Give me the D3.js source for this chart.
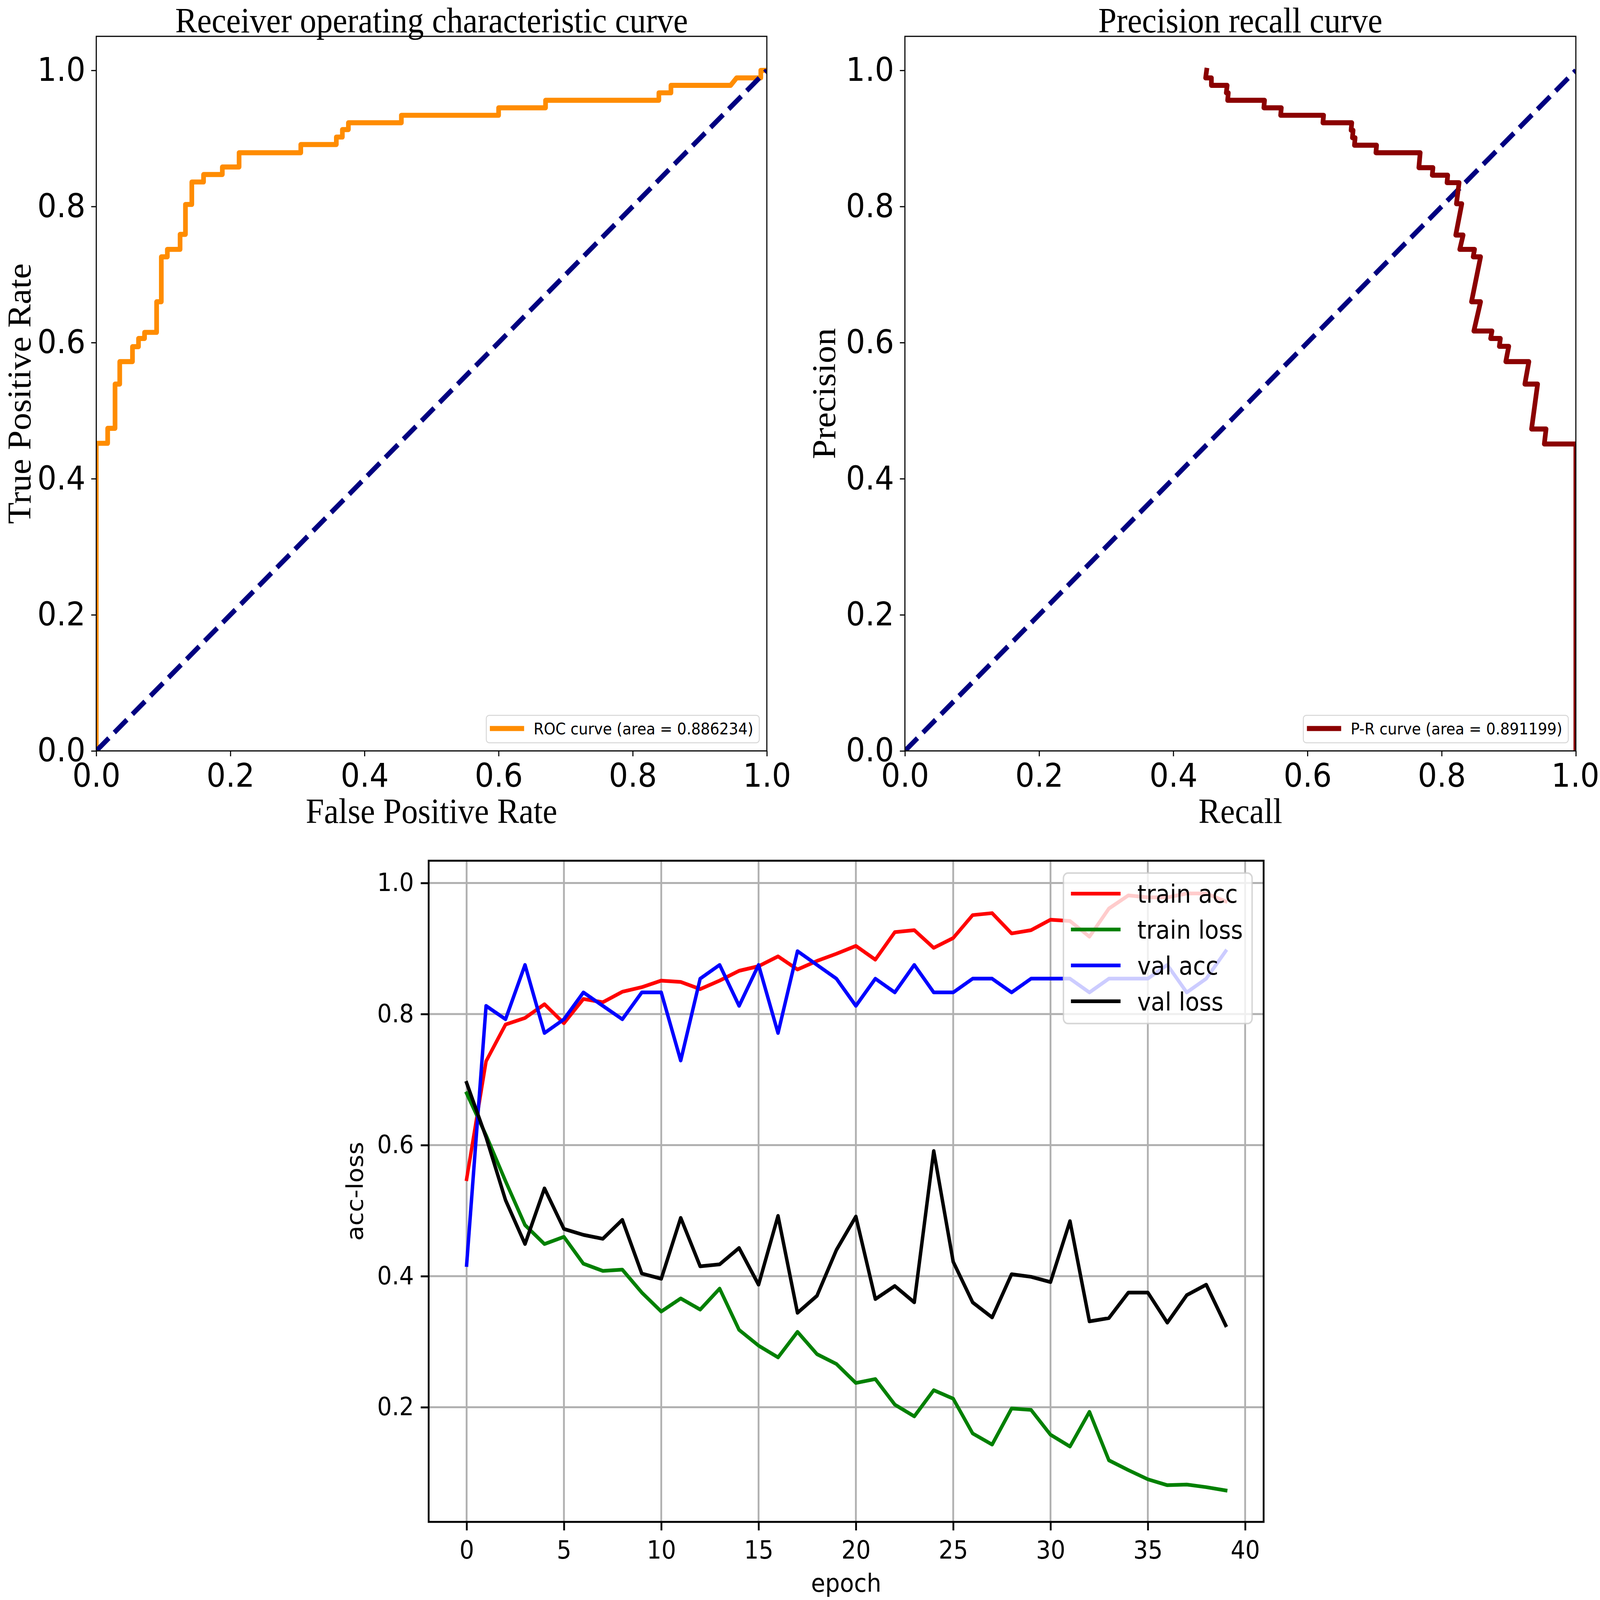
<!DOCTYPE html>
<html>
<head>
<meta charset="utf-8">
<script src="https://cdn.jsdelivr.net/npm/d3@7"></script>
<style>
body { margin: 0; background: #fff; overflow: hidden; }
svg { display: block; }
</style>
</head>
<body>
<script>
// drawing units follow the 4438x4138 reference; the svg is stretched to the real window
var W = 4438, H = 4138;

// ROC curve, corner points
var rocFpr = [0, 0, 0.017, 0.017, 0.028, 0.028, 0.035, 0.035, 0.054, 0.054, 0.063, 0.063, 0.072, 0.072,
    0.090, 0.090, 0.097, 0.097, 0.106, 0.106, 0.125, 0.125, 0.133, 0.133, 0.1425, 0.1425, 0.160, 0.160,
    0.188, 0.188, 0.213, 0.213, 0.305, 0.305, 0.358, 0.358, 0.367, 0.367, 0.376, 0.376, 0.455, 0.455,
    0.600, 0.600, 0.670, 0.670, 0.839, 0.839, 0.857, 0.857, 0.946, 0.955, 0.991, 0.991, 1.0];
var rocTpr = [0, 0.452, 0.452, 0.474, 0.474, 0.539, 0.539, 0.572, 0.572, 0.594, 0.594, 0.606, 0.606, 0.615,
    0.615, 0.660, 0.660, 0.726, 0.726, 0.737, 0.737, 0.759, 0.759, 0.803, 0.803, 0.836, 0.836, 0.847,
    0.847, 0.858, 0.858, 0.879, 0.879, 0.891, 0.891, 0.902, 0.902, 0.913, 0.913, 0.923, 0.923, 0.934,
    0.934, 0.945, 0.945, 0.956, 0.956, 0.967, 0.967, 0.978, 0.978, 0.989, 0.989, 1.0, 1.0];

// precision / recall curve
var prRecall = [0.4497, 0.4482, 0.4568, 0.4568, 0.4803, 0.479, 0.482, 0.481, 0.536, 0.535, 0.561, 0.560,
    0.624, 0.623, 0.666, 0.665, 0.668, 0.667, 0.671, 0.670, 0.703, 0.702, 0.768, 0.766, 0.787, 0.786,
    0.809, 0.808, 0.826, 0.822, 0.830, 0.821, 0.832, 0.827, 0.849, 0.847, 0.858, 0.8445, 0.858, 0.848,
    0.875, 0.873, 0.8875, 0.886, 0.900, 0.8956, 0.930, 0.924, 0.943, 0.934, 0.9556, 0.953, 1.0, 1.0];
var prPrecision = [1.0, 0.989, 0.989, 0.978, 0.978, 0.967, 0.967, 0.956, 0.956, 0.945, 0.945, 0.934,
    0.934, 0.923, 0.923, 0.912, 0.912, 0.901, 0.901, 0.890, 0.890, 0.879, 0.879, 0.857, 0.857, 0.846,
    0.846, 0.835, 0.835, 0.804, 0.804, 0.758, 0.758, 0.737, 0.737, 0.726, 0.726, 0.660, 0.660, 0.617,
    0.617, 0.606, 0.606, 0.5945, 0.5945, 0.572, 0.572, 0.539, 0.539, 0.473, 0.473, 0.451, 0.451, 0.0];

var chanceX = [0, 1];
var chanceY = [0, 1];

// training history
var epochs = [0, 1, 2, 3, 4, 5, 6, 7, 8, 9, 10, 11, 12, 13, 14, 15, 16, 17, 18, 19,
    20, 21, 22, 23, 24, 25, 26, 27, 28, 29, 30, 31, 32, 33, 34, 35, 36, 37, 38, 39];
var trainAcc = [0.548, 0.728, 0.784, 0.794, 0.815, 0.786, 0.823, 0.818, 0.834, 0.841, 0.851, 0.849,
    0.838, 0.851, 0.866, 0.873, 0.888, 0.868, 0.881, 0.892, 0.904, 0.883, 0.925, 0.928, 0.901, 0.916,
    0.951, 0.954, 0.923, 0.928, 0.944, 0.942, 0.918, 0.961, 0.981, 0.978, 0.978, 0.984, 0.984, 0.972];
var trainLoss = [0.679, 0.615, 0.545, 0.478, 0.449, 0.460, 0.419, 0.408, 0.410, 0.375, 0.346, 0.366,
    0.349, 0.381, 0.318, 0.294, 0.276, 0.315, 0.281, 0.266, 0.237, 0.243, 0.204, 0.186, 0.226, 0.213,
    0.160, 0.143, 0.198, 0.196, 0.158, 0.140, 0.193, 0.119, 0.104, 0.090, 0.081, 0.082, 0.078, 0.073];
var valAcc = [0.417, 0.8125, 0.792, 0.875, 0.771, 0.792, 0.833, 0.8125, 0.792, 0.833, 0.833, 0.729,
    0.854, 0.875, 0.8125, 0.875, 0.771, 0.896, 0.875, 0.854, 0.8125, 0.854, 0.833, 0.875, 0.833, 0.833,
    0.854, 0.854, 0.833, 0.854, 0.854, 0.854, 0.833, 0.854, 0.854, 0.854, 0.875, 0.833, 0.854, 0.896];
var valLoss = [0.695, 0.612, 0.516, 0.449, 0.534, 0.472, 0.463, 0.457, 0.486, 0.404, 0.396, 0.489,
    0.415, 0.418, 0.443, 0.387, 0.492, 0.344, 0.370, 0.440, 0.491, 0.365, 0.385, 0.360, 0.591, 0.422,
    0.360, 0.337, 0.403, 0.399, 0.391, 0.484, 0.331, 0.336, 0.375, 0.375, 0.329, 0.371, 0.387, 0.325];

var unitTicks = [0, 0.2, 0.4, 0.6, 0.8, 1.0];
var epochTicks = [0, 5, 10, 15, 20, 25, 30, 35, 40];
var histTicks = [0.2, 0.4, 0.6, 0.8, 1.0];

var svg = d3.select("body").append("svg")
    .attr("width", window.innerWidth)
    .attr("height", window.innerHeight)
    .attr("viewBox", "0 0 " + W + " " + H)
    .attr("preserveAspectRatio", "none")
    .style("background", "#fff");
var defs = svg.append("defs");

function clipFor(id, b) {
    defs.append("clipPath").attr("id", id)
        .append("rect")
        .attr("x", b.left).attr("y", b.top)
        .attr("width", b.right - b.left).attr("height", b.bottom - b.top);
    return "url(#" + id + ")";
}

function drawAxes(g, x, y, b, o) {
    var ax = g.append("g")
        .attr("transform", "translate(0," + b.bottom + ")")
        .call(d3.axisBottom(x).tickValues(o.xt).tickFormat(o.xf)
            .tickSize(o.tick).tickSizeOuter(0).tickPadding(o.xpad));
    var ay = g.append("g")
        .attr("transform", "translate(" + b.left + ",0)")
        .call(d3.axisLeft(y).tickValues(o.yt).tickFormat(o.yf)
            .tickSize(o.tick).tickSizeOuter(0).tickPadding(o.ypad));
    [ax, ay].forEach(function(a) {
        a.select(".domain").remove();
        a.attr("font-size", o.fs).attr("font-family", "DejaVu Sans");
        a.selectAll("line").attr("stroke", "#000").attr("stroke-width", o.tw);
        a.selectAll("text").attr("fill", "#000");
    });
    // keep a label that would run past the right page edge inside it
    ax.selectAll(".tick text").each(function(d) {
        var bb = this.getBBox();
        var right = x(d) + bb.x + bb.width;
        if (right > W - 2) d3.select(this).attr("x", -(right - (W - 2)));
    });
}

function frame(g, b, sw) {
    g.append("rect")
        .attr("x", b.left).attr("y", b.top)
        .attr("width", b.right - b.left).attr("height", b.bottom - b.top)
        .attr("fill", "none").attr("stroke", "#000").attr("stroke-width", sw);
}

function addLegend(g, items, o) {
    var em = o.fs;
    var lg = g.append("g");
    var bg = lg.append("rect");
    var rows = lg.selectAll("g.row").data(items).enter().append("g").attr("class", "row");
    var texts = rows.append("text")
        .attr("font-family", "DejaVu Sans")
        .attr("font-size", em)
        .text(function(d) { return d.label; });
    var maxW = d3.max(texts.nodes(), function(n) { return n.getComputedTextLength(); });
    var bw = 3.6 * em + maxW;
    var bh = (items.length * 1.45 + 0.28) * em;
    var left = o.right - bw;
    var top = o.top != null ? o.top : o.bottom - bh;
    bg.attr("x", left).attr("y", top).attr("width", bw).attr("height", bh)
        .attr("rx", 0.2 * em)
        .attr("fill", "#fff").attr("fill-opacity", 0.8)
        .attr("stroke", "#cccccc").attr("stroke-opacity", 0.8)
        .attr("stroke-width", o.edge);
    rows.each(function(d, i) {
        var cy = top + (0.83 + 1.45 * i) * em;
        var r = d3.select(this);
        r.insert("line", "text")
            .attr("x1", left + 0.4 * em).attr("x2", left + 2.4 * em)
            .attr("y1", cy).attr("y2", cy)
            .attr("stroke", d.color).attr("stroke-width", o.lw)
            .attr("stroke-linecap", "square");
        r.select("text").attr("x", left + 3.2 * em).attr("y", cy + 0.37 * em);
    });
}

function serif(g, txt, x, y, rot) {
    var t = g.append("text")
        .attr("font-family", "Liberation Serif, Times New Roman, serif")
        .attr("font-size", 91)
        .attr("text-anchor", "middle")
        .text(txt);
    if (rot) t.attr("transform", "translate(" + x + "," + y + ") rotate(-90)");
    else t.attr("x", x).attr("y", y);
}

function topPanel(b, id, title, xlab, ylab, xs, ys, color, label, curveOnTop) {
    var g = svg.append("g");
    var x = d3.scaleLinear().domain([0, 1]).range([b.left, b.right]);
    var y = d3.scaleLinear().domain([0, 1.05]).range([b.bottom, b.top]);
    var clip = clipFor(id, b);
    var line = d3.line()
        .x(function(d) { return x(d[0]); })
        .y(function(d) { return y(d[1]); });

    var drawCurve = function() {
        g.append("path")
            .datum(d3.zip(xs, ys))
            .attr("d", line)
            .attr("clip-path", clip)
            .attr("fill", "none")
            .attr("stroke", color)
            .attr("stroke-width", 13)
            .attr("stroke-linejoin", "round")
            .attr("stroke-linecap", "square");
    };
    var drawChance = function() {
        g.append("path")
            .datum(d3.zip(chanceX, chanceY))
            .attr("d", line)
            .attr("clip-path", clip)
            .attr("fill", "none")
            .attr("stroke", "#000080")
            .attr("stroke-width", 13)
            .attr("stroke-dasharray", "48,21");
    };
    if (curveOnTop) { drawChance(); drawCurve(); } else { drawCurve(); drawChance(); }

    drawAxes(g, x, y, b, {
        xt: unitTicks, yt: unitTicks, xf: d3.format(".1f"), yf: d3.format(".1f"),
        tick: 14, xpad: 19, ypad: 16, fs: 84, tw: 3
    });
    frame(g, b, 3);

    var cx = (b.left + b.right) / 2;
    serif(g, title, cx, 84);
    serif(g, xlab, cx, 2129);
    serif(g, ylab, Math.max(b.left - 194, 84), (b.top + b.bottom) / 2, true);

    addLegend(g, [{ label: label, color: color }],
        { fs: 41, lw: 13, edge: 2.5, right: b.right - 21, bottom: b.bottom - 21 });
}

topPanel({ left: 267, right: 2127, top: 94, bottom: 1942 }, "clipRoc",
    "Receiver operating characteristic curve", "False Positive Rate", "True Positive Rate",
    rocFpr, rocTpr, "#ff8c00", "ROC curve (area = 0.886234)", false);

topPanel({ left: 2510, right: 4371, top: 94, bottom: 1942 }, "clipPr",
    "Precision recall curve", "Recall", "Precision",
    prRecall, prPrecision, "#8b0000", "P-R curve (area = 0.891199)", true);

// training history panel
(function() {
    var b = { left: 1189, right: 3505, top: 2226, bottom: 3936 };
    var g = svg.append("g");
    var x = d3.scaleLinear().domain([-1.95, 40.95]).range([b.left, b.right]);
    var y = d3.scaleLinear().domain([0.025, 1.034]).range([b.bottom, b.top]);
    var clip = clipFor("clipHist", b);

    var grid = g.append("g").attr("stroke", "#b0b0b0").attr("stroke-width", 5);
    grid.selectAll("line.gx").data(epochTicks).enter().append("line")
        .attr("x1", function(d) { return x(d); }).attr("x2", function(d) { return x(d); })
        .attr("y1", b.top).attr("y2", b.bottom);
    grid.selectAll("line.gy").data(histTicks).enter().append("line")
        .attr("y1", function(d) { return y(d); }).attr("y2", function(d) { return y(d); })
        .attr("x1", b.left).attr("x2", b.right);

    var series = [
        { label: "train acc", color: "#ff0000", values: trainAcc },
        { label: "train loss", color: "#008000", values: trainLoss },
        { label: "val acc", color: "#0000ff", values: valAcc },
        { label: "val loss", color: "#000000", values: valLoss }
    ];
    var line = d3.line()
        .x(function(d, i) { return x(epochs[i]); })
        .y(function(d) { return y(d); });
    g.selectAll("path.series").data(series).enter().append("path")
        .attr("class", "series")
        .attr("d", function(s) { return line(s.values); })
        .attr("clip-path", clip)
        .attr("fill", "none")
        .attr("stroke", function(s) { return s.color; })
        .attr("stroke-width", 9.6)
        .attr("stroke-linejoin", "round")
        .attr("stroke-linecap", "square");

    drawAxes(g, x, y, b, {
        xt: epochTicks, yt: histTicks, xf: d3.format("d"), yf: d3.format(".1f"),
        tick: 22, xpad: 27, ypad: 19, fs: 64, tw: 5
    });
    frame(g, b, 5);

    g.append("text")
        .attr("x", (b.left + b.right) / 2).attr("y", 4117)
        .attr("text-anchor", "middle")
        .attr("font-family", "DejaVu Sans").attr("font-size", 64)
        .text("epoch");
    g.append("text")
        .attr("transform", "translate(1007," + ((b.top + b.bottom) / 2) + ") rotate(-90)")
        .attr("text-anchor", "middle")
        .attr("font-family", "DejaVu Sans").attr("font-size", 64)
        .text("acc-loss");

    addLegend(g, series, { fs: 64, lw: 9.6, edge: 4, right: b.right - 32, top: b.top + 32 });
})();
</script>
</body>
</html>
